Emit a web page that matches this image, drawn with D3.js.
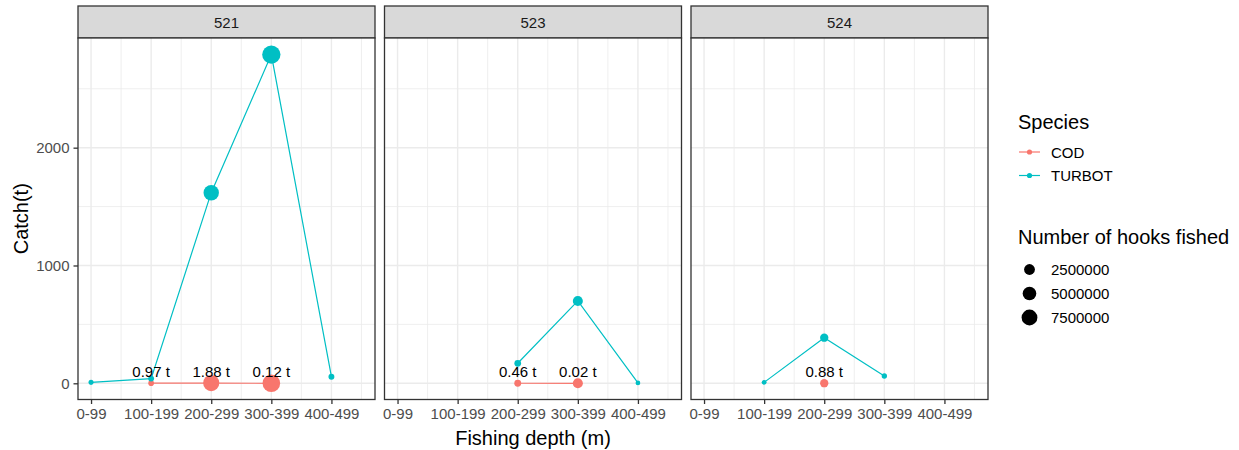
<!DOCTYPE html>
<html>
<head>
<meta charset="utf-8">
<script src="https://cdn.jsdelivr.net/npm/d3@7"></script>
<style>
  html, body { margin: 0; padding: 0; background: #fff; }
  svg { display: block; font-family: "Liberation Sans", Arial, sans-serif; }
</style>
</head>
<body>
<svg id="chart" width="1239" height="450"></svg>
<script>
// ---------------- data ----------------
const depths = ["0-99", "100-199", "200-299", "300-399", "400-499"];
const areas = ["521", "523", "524"];
const species = ["COD", "TURBOT"];
const speciesColors = ["#F8766D", "#00BFC4"];
const yTicks = [0, 1000, 2000];
const yMinorTicks = [500, 1500, 2500];
const hookLegendValues = [2500000, 5000000, 7500000];

// catch (t) per depth class, null = not fished
const cod521 = [null, 0.97, 1.88, 0.12, null];
const cod523 = [null, null, 0.46, 0.02, null];
const cod524 = [null, null, 0.88, null, null];
const turbot521 = [8, 40, 1618, 2790, 56];
const turbot523 = [null, null, 170, 699, 3];
const turbot524 = [null, 8, 387, 62, null];

// number of hooks fished per depth class
const codHooks521 = [null, 150000, 8000000, 10000000, null];
const codHooks523 = [null, null, 450000, 2000000, null];
const codHooks524 = [null, null, 1000000, null, null];
const turbotHooks521 = [60000, 200000, 7000000, 11000000, 200000];
const turbotHooks523 = [null, null, 400000, 2000000, 30000];
const turbotHooks524 = [null, 40000, 1000000, 100000, null];

const catchBySpecies = {
  COD: { "521": cod521, "523": cod523, "524": cod524 },
  TURBOT: { "521": turbot521, "523": turbot523, "524": turbot524 }
};
const hooksBySpecies = {
  COD: { "521": codHooks521, "523": codHooks523, "524": codHooks524 },
  TURBOT: { "521": turbotHooks521, "523": turbotHooks523, "524": turbotHooks524 }
};

// ---------------- layout ----------------
const svg = d3.select("#chart");
const FONT = '"Liberation Sans", Arial, sans-serif';
const panelLefts = [78, 384.5, 691];
const panelW = 297;
const stripTop = 6, panelTop = 38, panelBottom = 399.5;

const x = d3.scaleLinear().domain([-0.217, 4.725]).range([0, panelW]);
const y = d3.scaleLinear().domain([-137.5, 2931]).range([panelBottom, panelTop]);
const color = d3.scaleOrdinal().domain(species).range(speciesColors);
// ggplot-like area size scale
const hooksMax = 12000000;
const rScale = v => 1.99 + 7.47 * Math.sqrt(Math.max(0, v) / hooksMax);

const line = d3.line()
  .defined(d => d.c !== null)
  .x(d => x(d.i))
  .y(d => y(d.c));

areas.forEach((area, ai) => {
  const g = svg.append("g").attr("transform", `translate(${panelLefts[ai]},0)`);

  // strip
  g.append("rect").attr("x", 0).attr("y", stripTop).attr("width", panelW)
    .attr("height", panelTop - stripTop)
    .attr("fill", "#D9D9D9").attr("stroke", "#333333").attr("stroke-width", 1.3);
  g.append("text").attr("x", panelW / 2).attr("y", (stripTop + panelTop) / 2)
    .attr("text-anchor", "middle").attr("dominant-baseline", "central")
    .attr("font-size", 15).attr("fill", "#1A1A1A").text(area);

  // panel background
  g.append("rect").attr("x", 0).attr("y", panelTop).attr("width", panelW)
    .attr("height", panelBottom - panelTop).attr("fill", "#fff");

  // minor grid
  yMinorTicks.forEach(t => g.append("line").attr("x1", 0).attr("x2", panelW)
    .attr("y1", y(t)).attr("y2", y(t)).attr("stroke", "#EBEBEB").attr("stroke-width", 0.8));
  d3.range(0.5, 5, 1).forEach(t => {
    if (x(t) > 0 && x(t) < panelW)
      g.append("line").attr("x1", x(t)).attr("x2", x(t)).attr("y1", panelTop).attr("y2", panelBottom)
        .attr("stroke", "#EBEBEB").attr("stroke-width", 0.8);
  });
  // major grid
  yTicks.forEach(t => g.append("line").attr("x1", 0).attr("x2", panelW)
    .attr("y1", y(t)).attr("y2", y(t)).attr("stroke", "#EBEBEB").attr("stroke-width", 1.4));
  depths.forEach((d, i) => g.append("line").attr("x1", x(i)).attr("x2", x(i))
    .attr("y1", panelTop).attr("y2", panelBottom).attr("stroke", "#EBEBEB").attr("stroke-width", 1.4));

  // lines
  species.forEach(sp => {
    const pts = catchBySpecies[sp][area].map((c, i) => ({ i, c }));
    g.append("path").datum(pts).attr("d", line).attr("fill", "none")
      .attr("stroke", color(sp)).attr("stroke-width", 1.2);
  });
  // points
  species.forEach(sp => {
    const pts = catchBySpecies[sp][area].map((c, i) => ({ i, c, h: hooksBySpecies[sp][area][i] }))
      .filter(d => d.c !== null);
    g.selectAll(null).data(pts).enter().append("circle")
      .attr("cx", d => x(d.i)).attr("cy", d => y(d.c)).attr("r", d => rScale(d.h))
      .attr("fill", color(sp));
  });
  // cod labels
  const codPts = catchBySpecies.COD[area].map((c, i) => ({ i, c })).filter(d => d.c !== null);
  g.selectAll(null).data(codPts).enter().append("text")
    .attr("x", d => x(d.i)).attr("y", d => y(d.c + 100))
    .attr("text-anchor", "middle").attr("dominant-baseline", "central")
    .attr("font-size", 15).attr("fill", "#000")
    .text(d => d.c.toFixed(2) + " t");

  // border
  g.append("rect").attr("x", 0).attr("y", panelTop).attr("width", panelW)
    .attr("height", panelBottom - panelTop).attr("fill", "none")
    .attr("stroke", "#333333").attr("stroke-width", 1.3);

  // x axis
  const xAxis = d3.axisBottom(x).tickValues(d3.range(depths.length))
    .tickFormat(i => depths[i]).tickSize(4.5).tickPadding(4);
  const xa = g.append("g").attr("transform", `translate(0,${panelBottom})`).call(xAxis);
  xa.select(".domain").remove();
  xa.selectAll(".tick line").attr("stroke", "#333333").attr("stroke-width", 1.3);
  xa.selectAll(".tick text").attr("font-size", 15).attr("fill", "#4D4D4D").attr("font-family", FONT);

  if (ai === 0) {
    const yAxis = d3.axisLeft(y).tickValues(yTicks).tickFormat(d3.format("d")).tickSize(4.5).tickPadding(4);
    const ya = g.append("g").call(yAxis);
    ya.select(".domain").remove();
    ya.selectAll(".tick line").attr("stroke", "#333333").attr("stroke-width", 1.3);
    ya.selectAll(".tick text").attr("font-size", 15).attr("fill", "#4D4D4D").attr("font-family", FONT);
  }
});

// axis titles
svg.append("text").attr("transform", `translate(21,${(panelTop + panelBottom) / 2}) rotate(-90)`)
  .attr("text-anchor", "middle").attr("dominant-baseline", "central")
  .attr("font-size", 20).attr("fill", "#000").text("Catch(t)");
svg.append("text").attr("x", (panelLefts[0] + panelLefts[2] + panelW) / 2).attr("y", 438)
  .attr("text-anchor", "middle").attr("dominant-baseline", "central")
  .attr("font-size", 20).attr("fill", "#000").text("Fishing depth (m)");

// legends
const lg = svg.append("g");
lg.append("text").attr("x", 1018).attr("y", 122).attr("dominant-baseline", "central")
  .attr("font-size", 20).attr("fill", "#000").text("Species");
species.forEach((sp, i) => {
  const cy = 152 + i * 23.5;
  lg.append("line").attr("x1", 1019).attr("x2", 1040).attr("y1", cy).attr("y2", cy)
    .attr("stroke", color(sp)).attr("stroke-width", 1.2);
  lg.append("circle").attr("cx", 1029.5).attr("cy", cy).attr("r", 2.6).attr("fill", color(sp));
  lg.append("text").attr("x", 1051).attr("y", cy).attr("dominant-baseline", "central")
    .attr("font-size", 15).attr("fill", "#000").text(sp);
});
lg.append("text").attr("x", 1018).attr("y", 237).attr("dominant-baseline", "central")
  .attr("font-size", 20).attr("fill", "#000").text("Number of hooks fished");
hookLegendValues.forEach((v, i) => {
  const cy = 269.5 + i * 24;
  lg.append("circle").attr("cx", 1029.5).attr("cy", cy).attr("r", rScale(v)).attr("fill", "#000");
  lg.append("text").attr("x", 1051).attr("y", cy).attr("dominant-baseline", "central")
    .attr("font-size", 15).attr("fill", "#000").text(d3.format("d")(v));
});
</script>
</body>
</html>
